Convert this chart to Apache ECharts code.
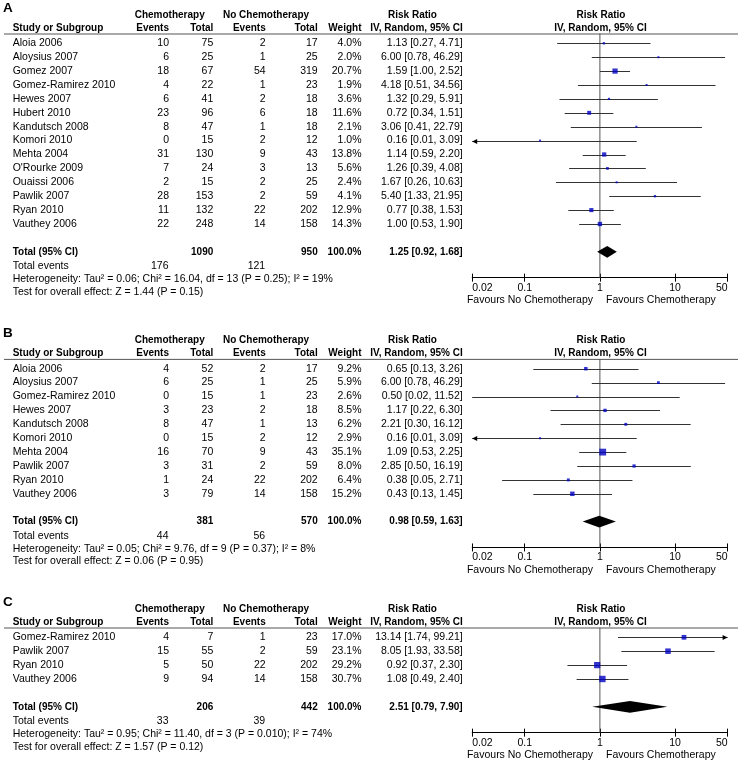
<!DOCTYPE html>
<html><head><meta charset="utf-8">
<script src="https://cdn.jsdelivr.net/npm/echarts@6/dist/echarts.min.js"></script>
<style>html,body{margin:0;padding:0;background:#fff}#c{width:738px;height:762px}</style>
</head><body><div id="c"></div>
<script>
// ---------- Panel A ----------
const studiesA = ['Aloia 2006','Aloysius 2007','Gomez 2007','Gomez-Ramirez 2010','Hewes 2007','Hubert 2010','Kandutsch 2008','Komori 2010','Mehta 2004',"O'Rourke 2009",'Ouaissi 2006','Pawlik 2007','Ryan 2010','Vauthey 2006'];
const chemoEventsA = [10,6,18,4,6,23,8,0,31,7,2,28,11,22];
const chemoTotalA = [75,25,67,22,41,96,47,15,130,24,15,153,132,248];
const noChemoEventsA = [2,1,54,1,2,6,1,2,9,3,2,2,22,14];
const noChemoTotalA = [17,25,319,23,18,18,18,12,43,13,25,59,202,158];
const weightA = [4.0,2.0,20.7,1.9,3.6,11.6,2.1,1.0,13.8,5.6,2.4,4.1,12.9,14.3];
const rrA = [1.13,6.00,1.59,4.18,1.32,0.72,3.06,0.16,1.14,1.26,1.67,5.40,0.77,1.00];
const loA = [0.27,0.78,1.00,0.51,0.29,0.34,0.41,0.01,0.59,0.39,0.26,1.33,0.38,0.53];
const hiA = [4.71,46.29,2.52,34.56,5.91,1.51,22.79,3.09,2.20,4.08,10.63,21.95,1.53,1.90];
const totalsA = [1090, 950];
const eventsA = [176, 121];
const pooledA = [1.25, 0.92, 1.68];
const hetA = 'Heterogeneity: Tau² = 0.06; Chi² = 16.04, df = 13 (P = 0.25); I² = 19%';
const testA = 'Test for overall effect: Z = 1.44 (P = 0.15)';

// ---------- Panel B ----------
const studiesB = ['Aloia 2006','Aloysius 2007','Gomez-Ramirez 2010','Hewes 2007','Kandutsch 2008','Komori 2010','Mehta 2004','Pawlik 2007','Ryan 2010','Vauthey 2006'];
const chemoEventsB = [4,6,0,3,8,0,16,3,1,3];
const chemoTotalB = [52,25,15,23,47,15,70,31,24,79];
const noChemoEventsB = [2,1,1,2,1,2,9,2,22,14];
const noChemoTotalB = [17,25,23,18,13,12,43,59,202,158];
const weightB = [9.2,5.9,2.6,8.5,6.2,2.9,35.1,8.0,6.4,15.2];
const rrB = [0.65,6.00,0.50,1.17,2.21,0.16,1.09,2.85,0.38,0.43];
const loB = [0.13,0.78,0.02,0.22,0.30,0.01,0.53,0.50,0.05,0.13];
const hiB = [3.26,46.29,11.52,6.30,16.12,3.09,2.25,16.19,2.71,1.45];
const totalsB = [381, 570];
const eventsB = [44, 56];
const pooledB = [0.98, 0.59, 1.63];
const hetB = 'Heterogeneity: Tau² = 0.05; Chi² = 9.76, df = 9 (P = 0.37); I² = 8%';
const testB = 'Test for overall effect: Z = 0.06 (P = 0.95)';

// ---------- Panel C ----------
const studiesC = ['Gomez-Ramirez 2010','Pawlik 2007','Ryan 2010','Vauthey 2006'];
const chemoEventsC = [4,15,5,9];
const chemoTotalC = [7,55,50,94];
const noChemoEventsC = [1,2,22,14];
const noChemoTotalC = [23,59,202,158];
const weightC = [17.0,23.1,29.2,30.7];
const rrC = [13.14,8.05,0.92,1.08];
const loC = [1.74,1.93,0.37,0.49];
const hiC = [99.21,33.58,2.30,2.40];
const totalsC = [206, 442];
const eventsC = [33, 39];
const pooledC = [2.51, 0.79, 7.90];
const hetC = 'Heterogeneity: Tau² = 0.95; Chi² = 11.40, df = 3 (P = 0.010); I² = 74%';
const testC = 'Test for overall effect: Z = 1.57 (P = 0.12)';

// ---------- Axis ----------
const tickValues = [0.02, 0.1, 1, 10, 50];
const tickLabels = ['0.02', '0.1', '1', '10', '50'];
const favourLeft = 'Favours No Chemotherapy';
const favourRight = 'Favours Chemotherapy';

// ---------- Layout ----------
const panels = [
  {label:'A', top:0, studies:studiesA, ce:chemoEventsA, ct:chemoTotalA, ne:noChemoEventsA, nt:noChemoTotalA, w:weightA, rr:rrA, lo:loA, hi:hiA, totals:totalsA, events:eventsA, pooled:pooledA, het:hetA, test:testA},
  {label:'B', top:325.4, studies:studiesB, ce:chemoEventsB, ct:chemoTotalB, ne:noChemoEventsB, nt:noChemoTotalB, w:weightB, rr:rrB, lo:loB, hi:hiB, totals:totalsB, events:eventsB, pooled:pooledB, het:hetB, test:testB},
  {label:'C', top:594, studies:studiesC, ce:chemoEventsC, ct:chemoTotalC, ne:noChemoEventsC, nt:noChemoTotalC, w:weightC, rr:rrC, lo:loC, hi:hiC, totals:totalsC, events:eventsC, pooled:pooledC, het:hetC, test:testC}
];
const F = '"Liberation Sans", Arial, Helvetica, sans-serif';
const FS = 10.5, FB = 10;
const ROW = 13.9;
const AMIN = tickValues[0], AMAX = tickValues[tickValues.length-1];
const XMIN = Math.log10(AMIN), XMAX = Math.log10(AMAX);
const tickLog = tickValues.map(v => Math.log10(v));
const col = {study:12.7, ev1:169, tot1:213.3, ev2:265.7, tot2:317.7, wt:361.5, ci:462.7};
const PLOT_L = 472.2, PLOT_R = 727.6;

function txt(x, y, s, align, bold, size) {
  return {type:'text', x:x, y:y, silent:true, z:10,
    style:{text:s, x:0, y:0, align:align||'left', textAlign:align||'left', verticalAlign:'middle', textVerticalAlign:'middle',
      fontFamily:F, fontSize:size||(bold?FB:FS), fontWeight:bold?'bold':'normal', fill:'#000'}};
}
const fmt2 = v => v.toFixed(2);
const ciStr = (r,l,h) => fmt2(r) + ' [' + fmt2(l) + ', ' + fmt2(h) + ']';

const graphics = [];
const grids = [], xAxes = [], yAxes = [], series = [];

panels.forEach((p, pi) => {
  const P = p.top;
  const n = p.studies.length;
  const row0 = P + 43.3;
  const totalIdx = n + 1;
  const yMax = n + 2.86;
  const totalY = row0 + totalIdx * ROW;
  const axisY = row0 + yMax * ROW;

  // headers
  graphics.push(txt(3, P + 8, p.label, 'left', true, 13.5));
  graphics.push(txt(169.7, P + 15, 'Chemotherapy', 'center', true));
  graphics.push(txt(266, P + 15, 'No Chemotherapy', 'center', true));
  graphics.push(txt(412.5, P + 15, 'Risk Ratio', 'center', true));
  graphics.push(txt(601, P + 15, 'Risk Ratio', 'center', true));
  graphics.push(txt(col.study, P + 28, 'Study or Subgroup', 'left', true));
  graphics.push(txt(col.ev1, P + 28, 'Events', 'right', true));
  graphics.push(txt(col.tot1, P + 28, 'Total', 'right', true));
  graphics.push(txt(col.ev2, P + 28, 'Events', 'right', true));
  graphics.push(txt(col.tot2, P + 28, 'Total', 'right', true));
  graphics.push(txt(col.wt, P + 28, 'Weight', 'right', true));
  graphics.push(txt(col.ci, P + 28, 'IV, Random, 95% CI', 'right', true));
  graphics.push(txt(600.5, P + 28, 'IV, Random, 95% CI', 'center', true));
  graphics.push({type:'line', silent:true, shape:{x1:4, y1:P + 34, x2:738, y2:P + 34}, style:{stroke:'#555', lineWidth:1}});

  // study rows
  p.studies.forEach((s, i) => {
    const y = row0 + i * ROW;
    graphics.push(txt(col.study, y, s, 'left'));
    graphics.push(txt(col.ev1, y, String(p.ce[i]), 'right'));
    graphics.push(txt(col.tot1, y, String(p.ct[i]), 'right'));
    graphics.push(txt(col.ev2, y, String(p.ne[i]), 'right'));
    graphics.push(txt(col.tot2, y, String(p.nt[i]), 'right'));
    graphics.push(txt(col.wt, y, p.w[i].toFixed(1) + '%', 'right'));
    graphics.push(txt(col.ci, y, ciStr(p.rr[i], p.lo[i], p.hi[i]), 'right'));
  });
  // total rows
  graphics.push(txt(col.study, totalY, 'Total (95% CI)', 'left', true));
  graphics.push(txt(col.tot1, totalY, String(p.totals[0]), 'right', true));
  graphics.push(txt(col.tot2, totalY, String(p.totals[1]), 'right', true));
  graphics.push(txt(col.wt, totalY, '100.0%', 'right', true));
  graphics.push(txt(col.ci, totalY, ciStr(p.pooled[0], p.pooled[1], p.pooled[2]), 'right', true));
  graphics.push(txt(col.study, totalY + 14.3, 'Total events', 'left'));
  graphics.push(txt(col.ev1 - 0.5, totalY + 14.3, String(p.events[0]), 'right'));
  graphics.push(txt(col.ev2 - 0.5, totalY + 14.3, String(p.events[1]), 'right'));
  graphics.push(txt(col.study, totalY + 27.6, p.het, 'left'));
  graphics.push(txt(col.study, totalY + 40, p.test, 'left'));
  graphics.push(txt(593, axisY + 22.3, favourLeft, 'right'));
  graphics.push(txt(606, axisY + 22.3, favourRight, 'left'));

  // forest grid
  const gTop = row0 - 0.7 * ROW;
  grids.push({left:PLOT_L, top:gTop, width:PLOT_R - PLOT_L, height:(yMax + 0.7) * ROW, show:false});
  const labelFmt = v => { const k = tickLog.findIndex(t => Math.abs(t - v) < 1e-6); return k >= 0 ? tickLabels[k] : ''; };
  xAxes.push({type:'value', gridIndex:pi, min:XMIN, max:XMAX, position:'bottom',
    axisLine:{show:true, onZero:false, lineStyle:{color:'#000', width:1}},
    axisTick:{show:true, inside:false, length:4, customValues:tickLog, lineStyle:{color:'#000'}},
    axisLabel:{show:true, customValues:tickLog, formatter:labelFmt, color:'#000', fontFamily:F, fontSize:FS, margin:4.5, alignMinLabel:'left', alignMaxLabel:'right', hideOverlap:false},
    splitLine:{show:false}});
  xAxes.push({type:'value', gridIndex:pi, min:XMIN, max:XMAX, position:'bottom',
    axisLine:{show:false, onZero:false},
    axisTick:{show:true, inside:true, length:4, customValues:tickLog, lineStyle:{color:'#000'}},
    axisLabel:{show:false}, splitLine:{show:false}});
  yAxes.push({type:'value', gridIndex:pi, min:-0.7, max:yMax, inverse:true, show:false});

  const xi = pi * 2;
  // reference line at RR = 1
  series.push({type:'line', xAxisIndex:xi, yAxisIndex:pi, silent:true, symbol:'none', z:1,
    data:[[Math.log10(1), -0.7], [Math.log10(1), yMax]], lineStyle:{color:'#555', width:1}});

  // CI lines
  const ciData = p.studies.map((s, i) => [
    Math.log10(Math.max(p.lo[i], AMIN)), Math.log10(Math.min(p.hi[i], AMAX)), i,
    p.lo[i] < AMIN ? 1 : 0, p.hi[i] > AMAX ? 1 : 0]);
  series.push({type:'custom', xAxisIndex:xi, yAxisIndex:pi, silent:true, z:2, clip:false,
    data:ciData,
    renderItem:(params, api) => {
      const a = api.coord([api.value(0), api.value(2)]);
      const b = api.coord([api.value(1), api.value(2)]);
      const y = Math.round(a[1]) + 0.5;
      const ch = [{type:'line', shape:{x1:a[0], y1:y, x2:b[0], y2:y}, style:{stroke:'#333', lineWidth:1}}];
      if (api.value(3)) ch.push({type:'polygon', shape:{points:[[a[0], y], [a[0] + 5, y - 2.5], [a[0] + 5, y + 2.5]]}, style:{fill:'#000'}});
      if (api.value(4)) ch.push({type:'polygon', shape:{points:[[b[0], y], [b[0] - 5, y - 2.5], [b[0] - 5, y + 2.5]]}, style:{fill:'#000'}});
      return {type:'group', children:ch};
    }});

  // squares sized by weight
  series.push({type:'scatter', xAxisIndex:xi, yAxisIndex:pi, silent:true, z:3,
    data:p.studies.map((s, i) => [Math.log10(p.rr[i]), i, p.w[i]]),
    symbol:'rect', symbolSize:v => Math.max(2, 1.15 * Math.sqrt(v[2])),
    itemStyle:{color:'#0000c0'}});

  // pooled diamond
  series.push({type:'custom', xAxisIndex:xi, yAxisIndex:pi, silent:true, z:3, clip:false,
    data:[[Math.log10(p.pooled[1]), Math.log10(p.pooled[0]), Math.log10(p.pooled[2]), totalIdx]],
    renderItem:(params, api) => {
      const r = api.value(3), h = 0.42;
      const l = api.coord([api.value(0), r]);
      const t = api.coord([api.value(1), r - h]);
      const rt = api.coord([api.value(2), r]);
      const bt = api.coord([api.value(1), r + h]);
      return {type:'polygon', shape:{points:[l, t, rt, bt]}, style:{fill:'#000'}};
    }});
});

const chart = echarts.init(document.getElementById('c'), null, {renderer:'canvas'});
chart.setOption({
  animation:false,
  backgroundColor:'#fff',
  grid:grids, xAxis:xAxes, yAxis:yAxes, series:series,
  graphic:{elements:graphics}
});
</script></body></html>
